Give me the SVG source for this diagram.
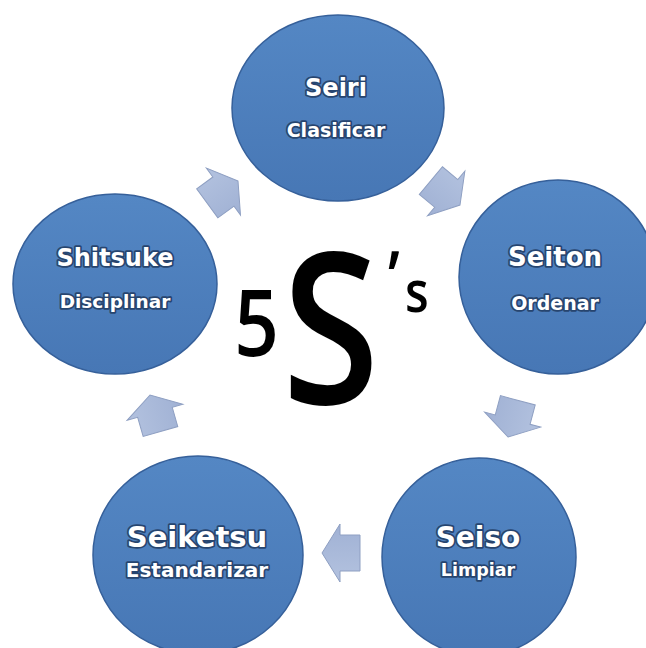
<svg xmlns="http://www.w3.org/2000/svg" xmlns:xlink="http://www.w3.org/1999/xlink" width="646" height="648" viewBox="0 0 646 648">
  <defs>
    <linearGradient id="blue" x1="0" y1="0" x2="0" y2="1">
      <stop offset="0" stop-color="#5487C4"/>
      <stop offset="1" stop-color="#4777B5"/>
    </linearGradient>
    <linearGradient id="arrowFill" x1="0" y1="0" x2="0" y2="1">
      <stop offset="0" stop-color="#B3C2DF"/>
      <stop offset="1" stop-color="#A0B1D4"/>
    </linearGradient>
    <path id="arr" d="M0,0 L-18,-29 L-18,-18 L-38,-18 L-38,18 L-18,18 L-18,29 Z"/>
  </defs>
  <style>
    .node ellipse { fill: url(#blue); stroke: #36609A; stroke-width: 1.5; }
    .lbl { font-family: "DejaVu Sans", "Liberation Sans", sans-serif; font-weight: bold; fill: #FFFFFF; stroke: #27456F; stroke-width: 3.5; paint-order: stroke; stroke-linejoin: round; text-anchor: middle; }
    .conn use { fill: url(#arrowFill); stroke: #8E9FC2; stroke-width: 1; stroke-linejoin: miter; }
    .title { font-family: "Open Sans", "Noto Sans", sans-serif; font-weight: 600; fill: #000000; }
  </style>
  <rect width="646" height="648" fill="#FFFFFF"/>

  <g id="connectors" class="conn">
    <use href="#arr" transform="translate(460,205) rotate(40)"/>
    <use href="#arr" transform="translate(508,437) rotate(105)"/>
    <use href="#arr" transform="translate(322,553) rotate(180)"/>
    <use href="#arr" transform="translate(150,395) rotate(-106)"/>
    <use href="#arr" transform="translate(238,181) rotate(-36)"/>
  </g>

  <g id="seiri" class="node">
    <ellipse cx="338" cy="108" rx="106" ry="93"/>
    <text class="lbl" x="336" y="96" font-size="24">Seiri</text>
    <text class="lbl" x="336" y="137" font-size="19">Clasificar</text>
  </g>

  <g id="seiton" class="node">
    <ellipse cx="558" cy="277" rx="99" ry="97"/>
    <text class="lbl" x="555" y="266" font-size="26">Seiton</text>
    <text class="lbl" x="555" y="310" font-size="19">Ordenar</text>
  </g>

  <g id="seiso" class="node">
    <ellipse cx="479" cy="557" rx="97" ry="99"/>
    <text class="lbl" x="478" y="547" font-size="28">Seiso</text>
    <text class="lbl" x="478" y="576" font-size="17.5">Limpiar</text>
  </g>

  <g id="seiketsu" class="node">
    <ellipse cx="198" cy="555" rx="105" ry="99"/>
    <text class="lbl" x="197" y="547" font-size="29">Seiketsu</text>
    <text class="lbl" x="197" y="577" font-size="20">Estandarizar</text>
  </g>

  <g id="shitsuke" class="node">
    <ellipse cx="115" cy="284" rx="102" ry="90"/>
    <text class="lbl" x="115" y="266" font-size="24">Shitsuke</text>
    <text class="lbl" x="115" y="308" font-size="18.5">Disciplinar</text>
  </g>

  <g id="title">
    <text class="title" transform="scale(0.84 1)"><tspan x="279" y="356" font-size="93">5</tspan><tspan x="336" y="404" font-size="210">S</tspan><tspan x="462" y="303" font-size="72">’</tspan><tspan x="482" y="312" font-size="58">s</tspan></text>
  </g>
</svg>
